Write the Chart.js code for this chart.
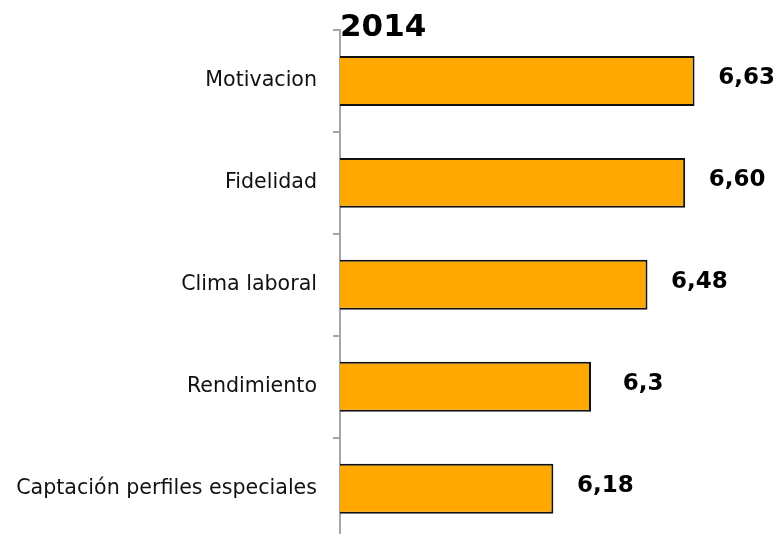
<!DOCTYPE html>
<html>
<head>
<meta charset="utf-8">
<script src="https://cdn.jsdelivr.net/npm/chart.js@4/dist/chart.umd.min.js"></script>
<style>
  html, body { margin: 0; padding: 0; background: #fff; overflow: hidden; }
  canvas { display: block; }
</style>
</head>
<body>
<canvas id="c" width="773" height="568"></canvas>
<script>
const chartTitle = '2014';
const categories = ['Motivacion', 'Fidelidad', 'Clima laboral', 'Rendimiento', 'Captación perfiles especiales'];
const values = [6.63, 6.60, 6.48, 6.30, 6.18];
const valueLabels = ['6,63', '6,60', '6,48', '6,3', '6,18'];
const xMin = 5.5;
const xMax = 6.88;

const titlePlugin = {
  id: 'topTitle',
  afterDraw(chart) {
    const ctx = chart.ctx;
    ctx.save();
    ctx.font = 'bold 31px "DejaVu Sans"';
    ctx.fillStyle = '#000';
    ctx.textAlign = 'left';
    ctx.textBaseline = 'alphabetic';
    ctx.fillText(chartTitle, chart.chartArea.left, 36);
    ctx.restore();
  }
};

const valueLabelPlugin = {
  id: 'valueLabels',
  afterDatasetsDraw(chart) {
    const ctx = chart.ctx;
    const meta = chart.getDatasetMeta(0);
    ctx.save();
    ctx.font = 'bold 23px "DejaVu Sans"';
    ctx.fillStyle = '#000';
    ctx.textAlign = 'center';
    ctx.textBaseline = 'middle';
    meta.data.forEach((bar, i) => {
      ctx.fillText(valueLabels[i], bar.x + 52, bar.y - 3);
    });
    ctx.restore();
  }
};

new Chart(document.getElementById('c'), {
  type: 'bar',
  data: {
    labels: categories,
    datasets: [{
      data: values,
      backgroundColor: '#FFA800',
      borderColor: '#111',
      borderWidth: 2,
      borderSkipped: false,
      barPercentage: 0.49,
      categoryPercentage: 1
    }]
  },
  options: {
    indexAxis: 'y',
    responsive: false,
    animation: false,
    layout: { padding: { top: 30, right: 0, bottom: 0, left: 0 } },
    plugins: {
      legend: { display: false },
      title: { display: false },
      tooltip: { enabled: false }
    },
    scales: {
      x: {
        display: false,
        min: xMin,
        max: xMax
      },
      y: {
        afterFit(scale) { scale.width = 340; },
        grid: {
          drawOnChartArea: false,
          drawTicks: true,
          tickLength: 7,
          offset: true,
          color: '#a6a6a6',
          lineWidth: 2
        },
        border: { color: '#a6a6a6', width: 2 },
        ticks: {
          padding: 16,
          color: '#111',
          font: { family: '"DejaVu Sans"', size: 20.6 }
        }
      }
    }
  },
  plugins: [titlePlugin, valueLabelPlugin]
});
</script>
</body>
</html>
